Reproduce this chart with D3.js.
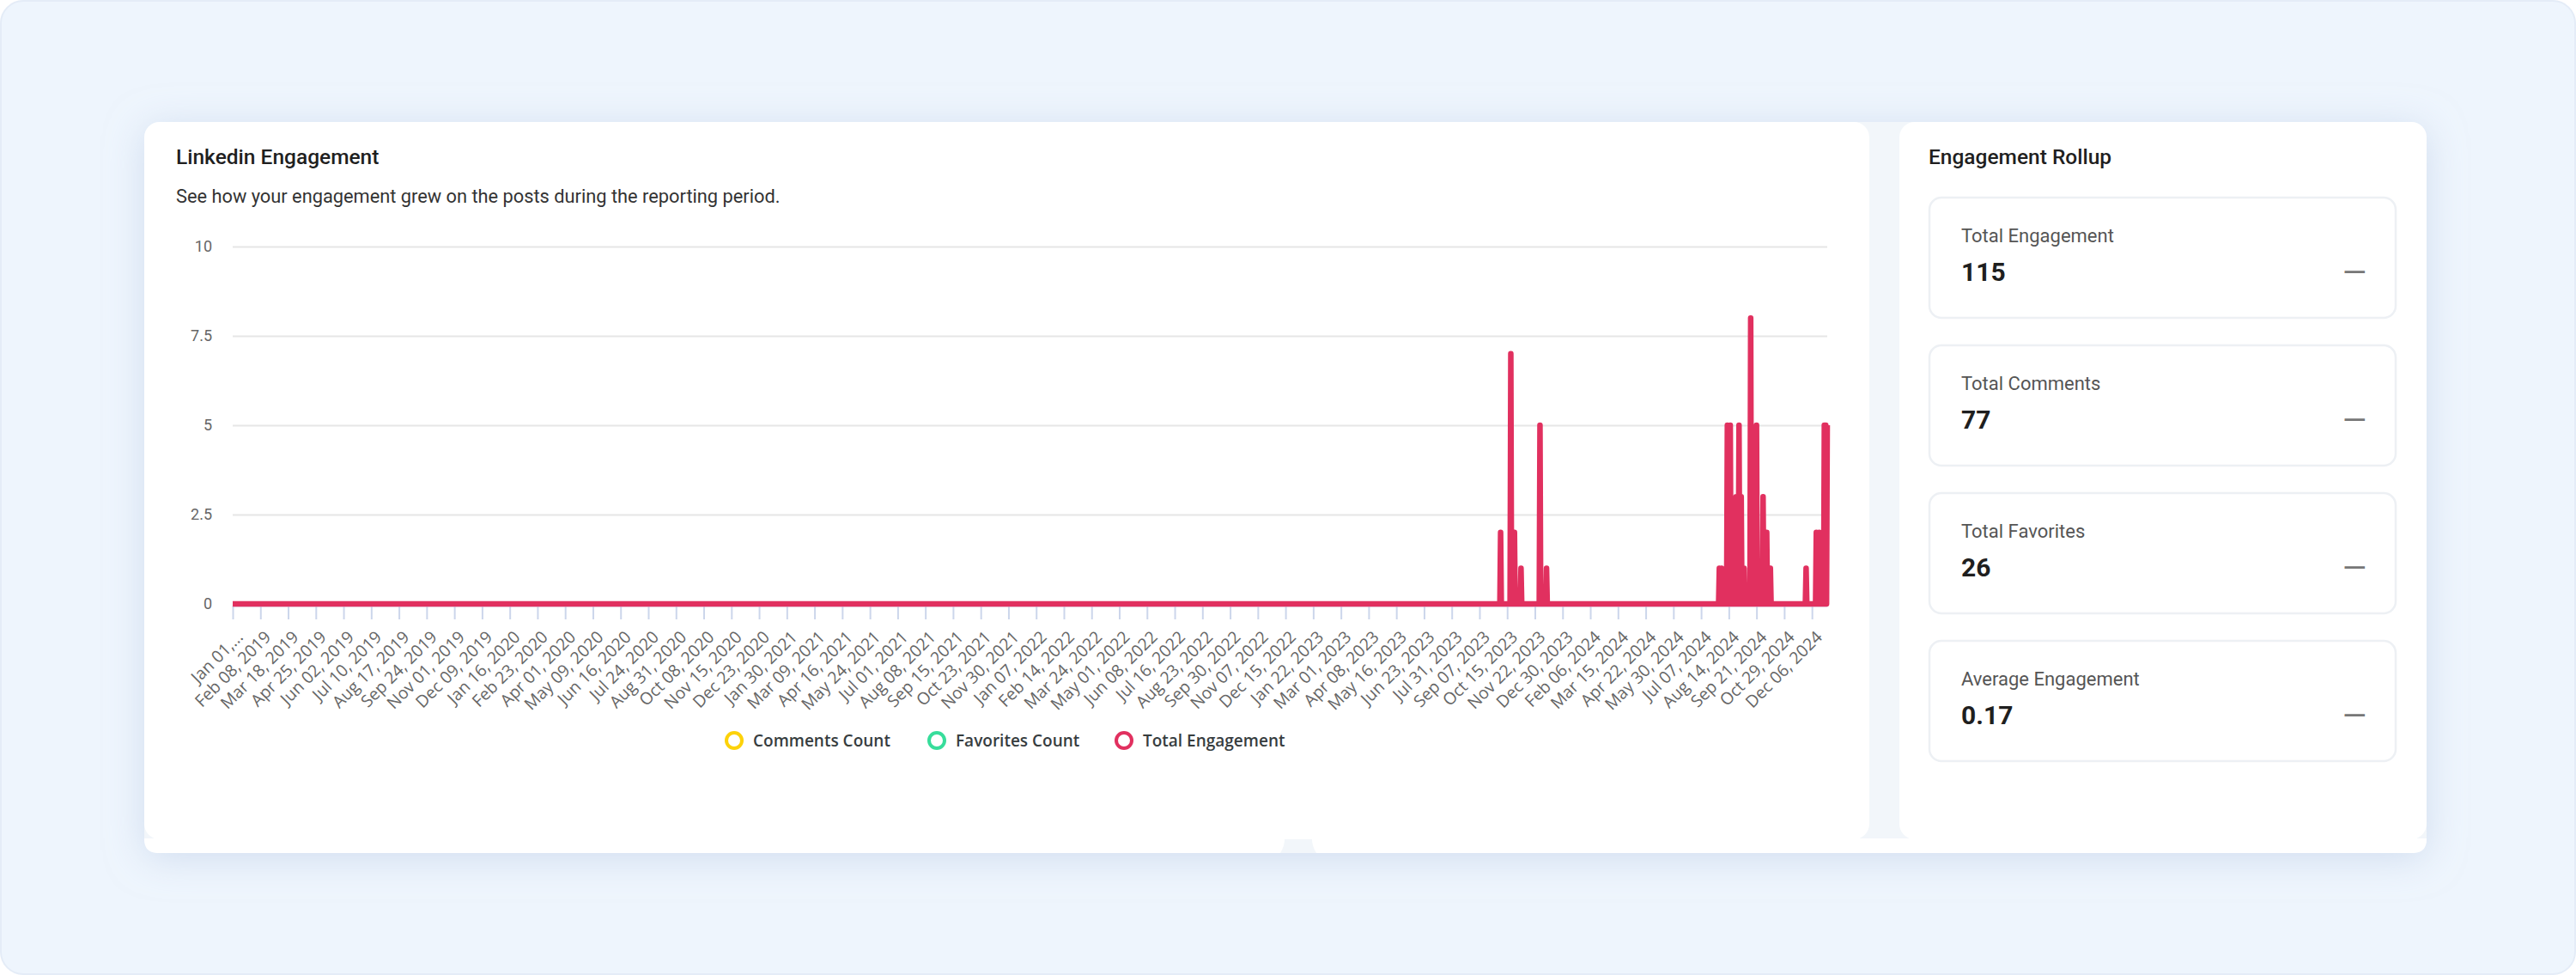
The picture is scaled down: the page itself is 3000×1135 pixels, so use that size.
<!DOCTYPE html>
<html>
<head>
<meta charset="utf-8">
<script src="https://cdn.jsdelivr.net/npm/d3@7"></script>
<style>
  html, body { margin: 0; padding: 0; background: #ffffff; }
  svg { display: block; }
</style>
</head>
<body>
<svg id="page"></svg>
<script>

// one point per day between these two dates
var firstDay = "2019-01-01"
var lastDay = "2024-12-27"

// days that had engagement, every other day is 0
var postDays = [
    "2023-10-06", "2023-10-20", "2023-10-25", "2023-11-03", "2023-11-29", "2023-12-08",
    "2024-08-01", "2024-08-04", "2024-08-12", "2024-08-16", "2024-08-24", "2024-08-28",
    "2024-08-31", "2024-09-04", "2024-09-13", "2024-09-21", "2024-09-30", "2024-10-05",
    "2024-10-10", "2024-11-28", "2024-12-12", "2024-12-16", "2024-12-23", "2024-12-25",
    "2024-12-27"
]
var totalEngagement = [
    2, 7, 2, 1, 5, 1,
    1, 1, 5, 5, 3, 5,
    3, 1, 8, 5, 3, 2,
    1, 1, 2, 2, 5, 5,
    5
]

var seriesNames = ["Comments Count", "Favorites Count", "Total Engagement"]
var seriesColors = ["#fdd20a", "#37dd9b", "#e1305f"]

var yTicks = [0, 2.5, 5, 7.5, 10]
var tickEvery = 38   // days between two x labels

var rollupLabels = ["Total Engagement", "Total Comments", "Total Favorites", "Average Engagement"]
var rollupValues = ["115", "77", "26", "0.17"]

var W = 3000, H = 1135

var dimensions = {
    width: 3000,
    height: 1135,
    plot: { left: 271, right: 2128, top: 287, bottom: 703 }
}

var svg = d3.select("#page")
    .attr("width", W)
    .attr("height", H)

var defs = svg.append("defs")
var shadow = defs.append("filter")
    .attr("id", "shadow")
    .attr("x", "-10%").attr("y", "-20%")
    .attr("width", "120%").attr("height", "140%")
shadow.append("feDropShadow")
    .attr("dx", 0).attr("dy", 6)
    .attr("stdDeviation", 22)
    .attr("flood-color", "#b9c9e3")
    .attr("flood-opacity", 0.55)

// page background
svg.append("rect")
    .attr("x", 1).attr("y", 1)
    .attr("width", W - 2).attr("height", H - 2)
    .attr("rx", 26)
    .attr("fill", "#eef5fd")
    .attr("stroke", "#e4ecf7")
    .attr("stroke-width", 2)

// container and the two cards
svg.append("rect")
    .attr("x", 168).attr("y", 142)
    .attr("width", 2658).attr("height", 851)
    .attr("rx", 18)
    .attr("fill", "#f2f6fa")
    .attr("filter", "url(#shadow)")

svg.append("rect")
    .attr("x", 168).attr("y", 142)
    .attr("width", 2009).attr("height", 835)
    .attr("rx", 18)
    .attr("fill", "#ffffff")

svg.append("rect")
    .attr("x", 2212).attr("y", 142)
    .attr("width", 614).attr("height", 835)
    .attr("rx", 18)
    .attr("fill", "#ffffff")

svg.append("path")
    .attr("d", "M168,976 H2826 V977 Q2826,993 2810,993 H184 Q168,993 168,977 Z")
    .attr("fill", "#ffffff")

svg.append("path")
    .attr("d", "M1491,993 Q1496,985 1496,977 H1528 Q1528,985 1533,993 Z")
    .attr("fill", "#f2f6fa")

// titles
svg.append("text")
    .attr("x", 205).attr("y", 191)
    .attr("font-family", "Roboto")
    .attr("font-weight", 500)
    .attr("font-size", 24.5)
    .attr("fill", "#1f1f1f")
    .text("Linkedin Engagement")

svg.append("text")
    .attr("x", 205).attr("y", 236)
    .attr("font-family", "Roboto")
    .attr("font-size", 21.8)
    .attr("fill", "#333333")
    .text("See how your engagement grew on the posts during the reporting period.")

// data
var parseDay = d3.utcParse("%Y-%m-%d")
var start = parseDay(firstDay)
var end = parseDay(lastDay)

var valueByDay = new Map(postDays.map(function(d, i) { return [d, totalEngagement[i]] }))
var fmtKey = d3.utcFormat("%Y-%m-%d")
var data = d3.utcDay.range(start, d3.utcDay.offset(end, 1)).map(function(d) {
    return { date: d, value: valueByDay.get(fmtKey(d)) || 0 }
})

var xScale = d3.scaleUtc()
    .domain([start, end])
    .range([dimensions.plot.left, dimensions.plot.right])

var yScale = d3.scaleLinear()
    .domain([0, 10])
    .range([dimensions.plot.bottom, dimensions.plot.top])

// grid + y labels
var yAxis = d3.axisLeft(yScale)
    .tickValues(yTicks)
    .tickSize(-(dimensions.plot.right - dimensions.plot.left))
    .tickPadding(24)
    .tickFormat(d3.format("~g"))

var yG = svg.append("g")
    .attr("transform", "translate(" + dimensions.plot.left + ",0)")
    .call(yAxis)
yG.select(".domain").remove()
yG.selectAll(".tick line")
    .attr("stroke", "#e6e6e6")
    .attr("stroke-width", 2)
yG.selectAll(".tick text")
    .attr("font-family", "Roboto")
    .attr("font-size", 18)
    .attr("fill", "#666666")

// x axis
var tickDays = d3.range(0, d3.utcDay.count(start, end) + 1, tickEvery)
    .map(function(i) { return d3.utcDay.offset(start, i) })
var fmtLabel = d3.utcFormat("%b %d, %Y")

var xAxis = d3.axisBottom(xScale)
    .tickValues(tickDays)
    .tickSize(16)
    .tickSizeOuter(0)
    .tickFormat(function(d, i) {
        var s = fmtLabel(d)
        return i === 0 ? s.slice(0, 7) + "\u2026" : s
    })

var xG = svg.append("g")
    .attr("transform", "translate(0," + (dimensions.plot.bottom + 2) + ")")
    .call(xAxis)
xG.select(".domain")
    .attr("stroke", "#ccd6eb")
    .attr("stroke-width", 2)
xG.selectAll(".tick line")
    .attr("stroke", "#ccd6eb")
    .attr("stroke-width", 2)
xG.selectAll(".tick text")
    .attr("font-family", "Open Sans")
    .attr("font-size", 19.5)
    .attr("fill", "#666666")
    .style("text-anchor", "end")
    .attr("x", 0)
    .attr("y", 0)
    .attr("dy", "0.35em")
    .attr("transform", "translate(8,33) rotate(-45)")

// engagement line
var line = d3.line()
    .x(function(d) { return xScale(d.date) })
    .y(function(d) { return yScale(d.value) })

svg.append("path")
    .datum(data)
    .attr("d", line)
    .attr("fill", "none")
    .attr("stroke", seriesColors[2])
    .attr("stroke-width", 6.5)
    .attr("stroke-linejoin", "round")
    .attr("stroke-linecap", "butt")

// legend
var legendX = [855, 1091, 1309]
var legend = svg.append("g")
    .selectAll("g")
    .data(seriesNames)
    .enter()
    .append("g")
    .attr("transform", function(d, i) { return "translate(" + legendX[i] + ",862)" })

legend.append("circle")
    .attr("r", 9)
    .attr("fill", "none")
    .attr("stroke", function(d, i) { return seriesColors[i] })
    .attr("stroke-width", 4)

legend.append("text")
    .attr("x", 22)
    .attr("dy", "0.35em")
    .attr("font-family", "Open Sans")
    .attr("font-weight", 600)
    .attr("font-size", 19)
    .attr("fill", "#373d3f")
    .text(function(d) { return d })

// rollup panel
svg.append("text")
    .attr("x", 2246).attr("y", 191)
    .attr("font-family", "Roboto")
    .attr("font-weight", 500)
    .attr("font-size", 24.5)
    .attr("fill", "#1f1f1f")
    .text("Engagement Rollup")

var cards = svg.append("g")
    .selectAll("g")
    .data(rollupLabels)
    .enter()
    .append("g")
    .attr("transform", function(d, i) { return "translate(2247," + (230 + i * 172) + ")" })

cards.append("rect")
    .attr("width", 543).attr("height", 140)
    .attr("rx", 14)
    .attr("fill", "#ffffff")
    .attr("stroke", "#edf0f4")
    .attr("stroke-width", 2.5)

cards.append("text")
    .attr("x", 37).attr("y", 52)
    .attr("font-family", "Roboto")
    .attr("font-size", 22)
    .attr("fill", "#555555")
    .text(function(d) { return d })

cards.append("text")
    .attr("x", 37).attr("y", 97)
    .attr("font-family", "Roboto")
    .attr("font-weight", 700)
    .attr("font-size", 30)
    .attr("fill", "#1f1f1f")
    .text(function(d, i) { return rollupValues[i] })

cards.append("text")
    .attr("x", 509).attr("y", 100)
    .attr("text-anchor", "end")
    .attr("font-family", "Roboto")
    .attr("font-size", 36)
    .attr("fill", "#777777")
    .text("\u2014")

</script>
</body>
</html>
